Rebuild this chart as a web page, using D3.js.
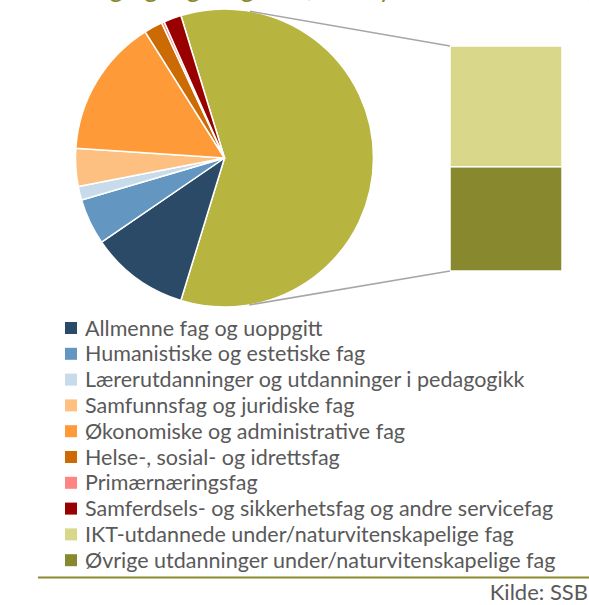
<!DOCTYPE html>
<html>
<head>
<meta charset="utf-8">
<script src="https://cdn.jsdelivr.net/npm/d3@7"></script>
<style>
  body { margin: 0; background: #fff; }
  text { font-family: Lato, "Open Sans", sans-serif; }
</style>
</head>
<body>
<div id="chart"></div>
<script>
// categories, in the order used by the legend
var categories = [
    "Allmenne fag og uoppgitt",
    "Humanistiske og estetiske fag",
    "Lærerutdanninger og utdanninger i pedagogikk",
    "Samfunnsfag og juridiske fag",
    "Økonomiske og administrative fag",
    "Helse-, sosial- og idrettsfag",
    "Primærnæringsfag",
    "Samferdsels- og sikkerhetsfag og andre servicefag",
    "IKT-utdannede under/naturvitenskapelige fag",
    "Øvrige utdanninger under/naturvitenskapelige fag"
];
// share in percent
var values = [10.7, 5.0, 1.5, 4.1, 15.0, 2.0, 0.3, 1.9, 31.9, 27.5];
var colors = ["#2a4a68", "#6396c1", "#c7dbea", "#fec081", "#fe9a38",
              "#cc6a04", "#ff8585", "#990000", "#d9d78a", "#88882e"];
// the last two categories are grouped into the pie slice and split out in the bar
var barCount = 2;
var otherColor = "#b8b440";
var title = "Utdanning og fagbakgrunn, IKT-sysselsatte etter høyeste utdanning";
var source = "Kilde: SSB";

var width = 589, height = 605;
var cx = 224.5, cy = 158, r = 149;
var bar = {x: 450, w: 112, top: 46, bottom: 271};

var svg = d3.select("#chart")
    .append("svg")
    .attr("width", width)
    .attr("height", height);

// title (mostly above the visible area)
svg.append("text")
    .attr("x", 4)
    .attr("y", -3)
    .attr("fill", "#8a8a2e")
    .attr("font-size", 26)
    .text(title);

// pie data: the grouped slice first, centred on 3 o'clock
var pieCount = categories.length - barCount;
var otherValue = d3.sum(values.slice(pieCount));
var pieData = [{name: "Andre", value: otherValue, color: otherColor}];
for (var i = 0; i < pieCount; i++) {
    pieData.push({name: categories[i], value: values[i], color: colors[i]});
}
var total = d3.sum(pieData, function(d) { return d.value; });
var otherSpan = otherValue / total * 2 * Math.PI;
var start = Math.PI / 2 - otherSpan / 2;

var pie = d3.pie()
    .sort(null)
    .value(function(d) { return d.value; })
    .startAngle(start)
    .endAngle(start + 2 * Math.PI);

var arc = d3.arc().innerRadius(0).outerRadius(r);

var g = svg.append("g")
    .attr("transform", "translate(" + cx + "," + cy + ")");

g.selectAll("path")
    .data(pie(pieData))
    .enter()
    .append("path")
    .attr("d", arc)
    .attr("fill", function(d) { return d.data.color; })
    .attr("stroke", "#fff")
    .attr("stroke-width", 1.5)
    .attr("stroke-linejoin", "round");

// stacked bar for the grouped slice
var barData = [];
for (var j = pieCount; j < categories.length; j++) {
    barData.push({name: categories[j], value: values[j], color: colors[j]});
}
var y = d3.scaleLinear()
    .domain([0, otherValue])
    .range([bar.top, bar.bottom]);
var acc = 0;
barData.forEach(function(d) { d.y0 = acc; acc += d.value; d.y1 = acc; });

svg.selectAll("rect.seg")
    .data(barData)
    .enter()
    .append("rect")
    .attr("class", "seg")
    .attr("x", bar.x)
    .attr("y", function(d) { return y(d.y0); })
    .attr("width", bar.w)
    .attr("height", function(d) { return y(d.y1) - y(d.y0); })
    .attr("fill", function(d) { return d.color; })
    .attr("stroke", "#fff")
    .attr("stroke-width", 1.5);

// connector lines: tangent from the bar corners to the circle
function tangent(px, py, upper) {
    var dx = px - cx, dy = py - cy;
    var d = Math.sqrt(dx * dx + dy * dy);
    var phi = Math.atan2(dy, dx);
    var a = Math.acos(r / d);
    var t = upper ? phi - a : phi + a;
    return [cx + r * Math.cos(t), cy + r * Math.sin(t)];
}
var t1 = tangent(bar.x, y(0), true);
var t2 = tangent(bar.x, y(otherValue), false);
[[t1, [bar.x, y(0)]], [t2, [bar.x, y(otherValue)]]].forEach(function(l) {
    svg.append("line")
        .attr("x1", l[0][0]).attr("y1", l[0][1])
        .attr("x2", l[1][0]).attr("y2", l[1][1])
        .attr("stroke", "#a6a6a6")
        .attr("stroke-width", 1.5);
});

// legend
var legend = svg.append("g")
    .attr("transform", "translate(65,328)");
var rowH = 25.8;
var item = legend.selectAll("g")
    .data(categories)
    .enter()
    .append("g")
    .attr("transform", function(d, i) { return "translate(0," + (i * rowH) + ")"; });
item.append("rect")
    .attr("x", 0)
    .attr("y", -6)
    .attr("width", 12)
    .attr("height", 12)
    .attr("fill", function(d, i) { return colors[i]; });
item.append("text")
    .attr("x", 20)
    .attr("y", 7.5)
    .attr("font-size", 21.5)
    .attr("fill", "#595959")
    .text(function(d) { return d; });

// footer rule and source
svg.append("line")
    .attr("x1", 38).attr("x2", width)
    .attr("y1", 577.5).attr("y2", 577.5)
    .attr("stroke", "#8a8a2e")
    .attr("stroke-width", 2);
svg.append("text")
    .attr("x", 588)
    .attr("y", 600)
    .attr("text-anchor", "end")
    .attr("font-size", 22)
    .attr("fill", "#595959")
    .text(source);
</script>
</body>
</html>
